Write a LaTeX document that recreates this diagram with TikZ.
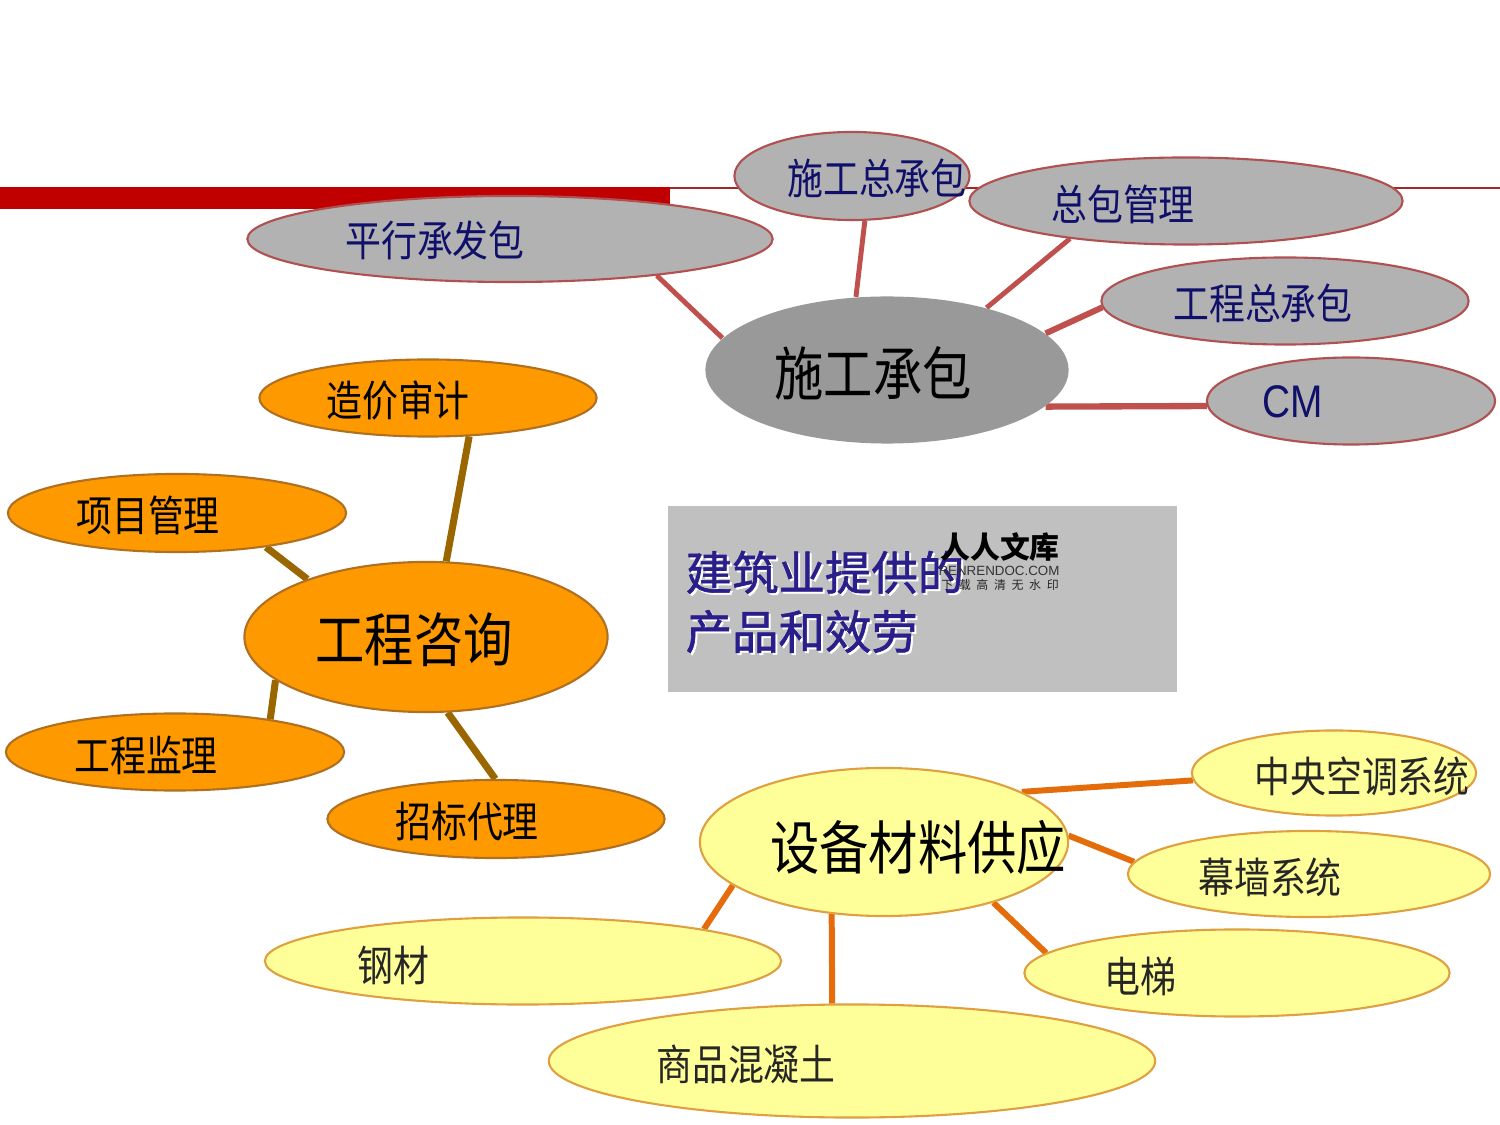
\documentclass[tikz,border=0pt]{standalone}
\usepackage{fontspec}
\newfontfamily\cjk{Noto Sans CJK SC}
\newfontfamily\cjkfb[FakeBold=1.3]{Noto Sans CJK SC}
\newfontfamily\cjkc[FakeStretch=0.85]{Noto Sans CJK SC}
\newfontfamily\arialc[FakeStretch=0.85]{Liberation Sans}
\newfontfamily\arialn{Liberation Sans}
\usetikzlibrary{shapes.geometric,backgrounds}
\definecolor{barred}{HTML}{C00000}
\definecolor{thinred}{HTML}{A02828}
\definecolor{grayfill}{HTML}{B2B2B2}
\definecolor{darkgray}{HTML}{999999}
\definecolor{grayedge}{HTML}{B05050}
\definecolor{redline}{HTML}{C0504D}
\definecolor{orfill}{HTML}{FF9900}
\definecolor{oredge}{HTML}{B07020}
\definecolor{brownline}{HTML}{996600}
\definecolor{yelfill}{HTML}{FFFF99}
\definecolor{yeledge}{HTML}{E0A040}
\definecolor{orline}{HTML}{E46C0A}
\definecolor{boxfill}{HTML}{C0C0C0}
\definecolor{navy}{HTML}{10106A}
\definecolor{titleblue}{HTML}{2A1E8A}
\tikzset{
  gell/.style={ellipse, draw=grayedge, line width=0.6pt, fill=grayfill, inner sep=0pt},
  gmain/.style={ellipse, fill=darkgray, inner sep=0pt},
  oell/.style={ellipse, draw=oredge, line width=0.6pt, fill=orfill, inner sep=0pt},
  yell/.style={ellipse, draw=yeledge, line width=0.6pt, fill=yelfill, inner sep=0pt},
  glbl/.style={inner sep=0pt, text=navy, font=\cjkc\fontsize{12}{14}\selectfont},
  olbl/.style={inner sep=0pt, text=black, font=\cjkc\fontsize{12}{14}\selectfont},
  ylbl/.style={inner sep=0pt, text=black!85, font=\cjkc\fontsize{12}{14}\selectfont},
  biglbl/.style={inner sep=0pt, text=black, font=\cjkc\fontsize{16.5}{18}\selectfont},
  redcon/.style={draw=redline, line width=1.4pt},
  browncon/.style={draw=brownline, line width=2pt},
  orcon/.style={draw=orline, line width=1.7pt},
  titletext/.style={inner sep=0pt, anchor=west, font=\cjkfb\fontsize{13.2}{16.8}\selectfont, align=left},
}
\begin{document}
\begin{tikzpicture}[x=0.01cm,y=-0.01cm]
\useasboundingbox (0,0) rectangle (1500,1125);

% ---------- gray group ----------
\node[gell, minimum width=5.25cm, minimum height=0.86cm] (P) at (510,239) {};
\node[gell, minimum width=2.35cm, minimum height=0.88cm] (T) at (852,176) {};
\node[gell, minimum width=4.33cm, minimum height=0.87cm] (Z) at (1186,201) {};
\node[gell, minimum width=3.67cm, minimum height=0.87cm] (G) at (1285,301) {};
\node[gell, minimum width=2.88cm, minimum height=0.87cm] (CM) at (1351,401) {};
\node[gmain, minimum width=3.63cm, minimum height=1.47cm] (S) at (887,370) {};

\node[glbl] (Pt) at (435,240) {平行承发包};
\node[glbl] (Tt) at (877,178) {施工总承包};
\node[glbl] (Zt) at (1123,204) {总包管理};
\node[glbl] (Gt) at (1263,303) {工程总承包};
\node[inner sep=0pt, text=navy, font=\arialc\fontsize{13}{14}\selectfont] (CMt) at (1293,402) {CM};
\node[biglbl] (St) at (873,373) {施工承包};

% ---------- orange group ----------
\node[oell, minimum width=3.37cm, minimum height=0.77cm] (A) at (428,398) {};
\node[oell, minimum width=3.38cm, minimum height=0.78cm] (B) at (177,513) {};
\node[oell, minimum width=3.63cm, minimum height=1.50cm] (C) at (426,637) {};
\node[oell, minimum width=3.38cm, minimum height=0.77cm] (D) at (175,752) {};
\node[oell, minimum width=3.37cm, minimum height=0.78cm] (F) at (496,819) {};

\node[olbl] (At) at (398,400) {造价审计};
\node[olbl] (Bt) at (148,515) {项目管理};
\node[biglbl] (Ct) at (414,640) {工程咨询};
\node[olbl] (Dt) at (146,755) {工程监理};
\node[olbl] (Ft) at (467,822) {招标代理};

% ---------- yellow group ----------
\node[yell, minimum width=3.68cm, minimum height=1.48cm] (E) at (884,842) {};
\node[yell, minimum width=2.84cm, minimum height=0.85cm] (Y1) at (1334,773) {};
\node[yell, minimum width=3.62cm, minimum height=0.86cm] (Y2) at (1309,874) {};
\node[yell, minimum width=4.25cm, minimum height=0.87cm] (Y3) at (1237,973) {};
\node[yell, minimum width=5.16cm, minimum height=0.87cm] (Y4) at (523,961) {};
\node[yell, minimum width=6.06cm, minimum height=1.13cm] (Y5) at (852,1061) {};

\node[biglbl] (Et) at (918,847) {设备材料供应};
\node[ylbl] (Y1t) at (1362,776) {中央空调系统};
\node[ylbl] (Y2t) at (1270,877) {幕墙系统};
\node[ylbl] (Y3t) at (1140,976) {电梯};
\node[ylbl] (Y4t) at (393,965) {钢材};
\node[ylbl] (Y5t) at (746,1064) {商品混凝土};

% ---------- title ----------
\node[titletext, text=white] (Hs) at (687,604) {建筑业提供的\\产品和效劳};
\node[titletext, text=titleblue] (H) at (685,602) {建筑业提供的\\产品和效劳};

% ---------- background layer ----------
\begin{pgfonlayer}{background}
\fill[white] (0,0) rectangle (1500,1125);
\fill[barred] (0,187) rectangle (670,209);
\draw[thinred, line width=0.6pt] (670,188) -- (1500,188);
\fill[boxfill] (668,506) rectangle (1177,692);

% connectors
\draw[redcon] (P.346.1) -- (S.169.2);
\draw[redcon] (T.286.5) -- (S.113.7);
\draw[redcon] (Z.198.9) -- (S.32.7);
\draw[redcon, line width=1.7pt] (G.182.9) -- (S.13.1);
\draw[redcon, line width=1.8pt] (CM.182) -- (S.347);

\draw[browncon] (A.317.4) -- (C.75.2);
\draw[browncon] (B.339.9) -- (C.154.4);
\draw[browncon] (D.19.3) -- (C.196.5);
\draw[browncon] (F.91.7) -- (C.286.5);

\draw[orcon] (Y1.183.2) -- (E.20.5);
\draw[orcon] (Y2.176.1) -- (E.2.8);
\draw[orcon] (Y3.174.5) -- (E.331.4);
\draw[orcon] (Y4.10.4) -- (E.196.7);
\draw[orcon] (Y5.109.7) -- (E.234.5);
\end{pgfonlayer}

% watermark
\node[inner sep=0pt, font=\cjk\bfseries\fontsize{8.5}{9}\selectfont] (wm1) at (1000,547) {人人文库};
\node[inner sep=0pt, font=\arialn\fontsize{3.8}{4}\selectfont, text=black!80] (wm2) at (999,571) {RENRENDOC.COM};
\node[inner sep=0pt, font=\cjk\fontsize{3.4}{4}\selectfont, text=black!85] (wm3) at (1000,585) {下\hspace{1.6pt}载\hspace{1.6pt}高\hspace{1.6pt}清\hspace{1.6pt}无\hspace{1.6pt}水\hspace{1.6pt}印};
\end{tikzpicture}
\end{document}
